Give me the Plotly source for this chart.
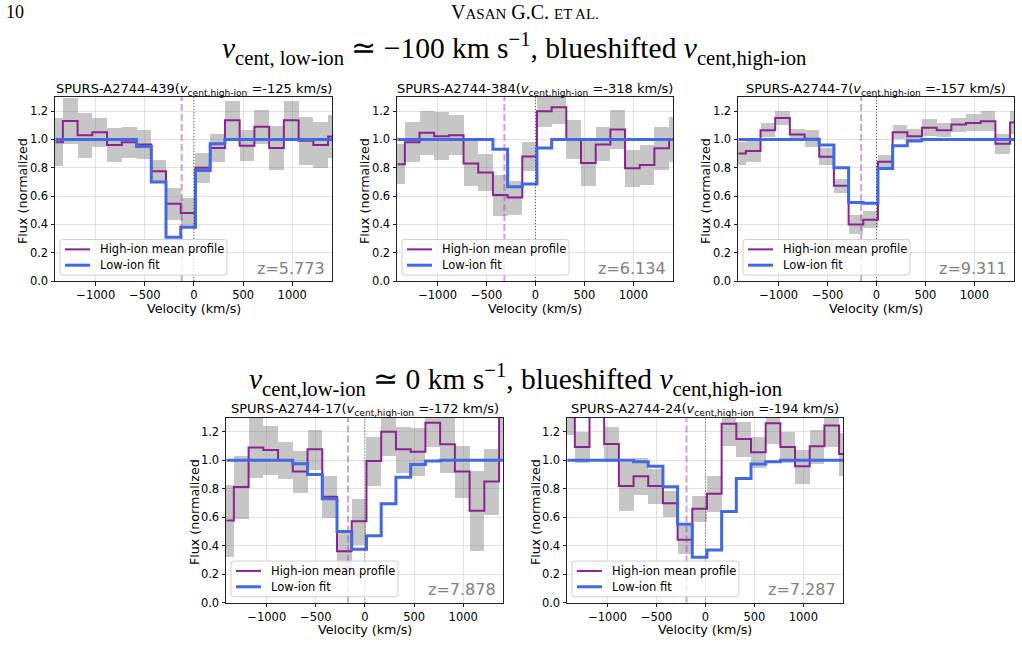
import plotly.graph_objects as go

W, H = 1022, 667

# ---------------- data ----------------
VEL = [-1410, -1260, -1110, -960, -810, -660, -510, -360, -210, -60,
       90, 240, 390, 540, 690, 840, 990, 1140, 1290, 1440]
XTICKS = [-1000, -500, 0, 500, 1000]
XTICKTEXT = ["−1000", "−500", "0", "500", "1000"]
YTICKS = [0.0, 0.2, 0.4, 0.6, 0.8, 1.0, 1.2]

NAMES = ["SPURS-A2744-439", "SPURS-A2744-384", "SPURS-A2744-7",
         "SPURS-A2744-17", "SPURS-A2744-24"]
V_HIGH = [-125, -318, -157, -172, -194]
REDSHIFTS = ["5.773", "6.134", "9.311", "7.878", "7.287"]

HIGH_439 = [0.98, 1.13, 1.03, 1.05, 0.96, 0.98, 0.965, 0.775, 0.545, 0.48,
            0.80, 0.94, 1.135, 0.955, 1.09, 0.94, 1.135, 0.99, 0.96, 1.02]
ERR_439 = [0.17, 0.16, 0.16, 0.10, 0.12, 0.11, 0.10, 0.08, 0.115, 0.105,
           0.105, 0.10, 0.135, 0.11, 0.12, 0.155, 0.14, 0.17, 0.16, 0.15]
LOW_439 = [1.0, 1.0, 1.0, 1.0, 1.0, 1.0, 0.95, 0.70, 0.31, 0.38,
           0.78, 0.97, 1.0, 1.0, 1.0, 1.0, 1.0, 1.0, 1.0, 1.0]

HIGH_384 = [0.825, 0.98, 1.047, 1.023, 1.03, 0.83, 0.766, 0.607, 0.59, 0.88,
            1.20, 1.227, 1.0, 0.834, 0.965, 1.07, 0.797, 0.82, 0.937, 1.0]
ERR_384 = [0.14, 0.14, 0.155, 0.17, 0.14, 0.16, 0.13, 0.145, 0.12, 0.10,
           0.11, 0.12, 0.14, 0.16, 0.12, 0.14, 0.13, 0.14, 0.15, 0.16]
LOW_384 = [1.0, 1.0, 1.0, 1.0, 1.0, 1.0, 1.0, 0.93, 0.666, 0.685,
           0.94, 1.0, 1.0, 1.0, 1.0, 1.0, 1.0, 1.0, 1.0, 1.0]

HIGH_7 = [0.90, 0.918, 1.065, 1.152, 1.035, 1.005, 0.878, 0.673, 0.40, 0.432,
          0.843, 1.05, 1.023, 1.082, 1.065, 1.105, 1.117, 1.128, 0.97, 1.12]
ERR_7 = [0.08, 0.08, 0.05, 0.05, 0.04, 0.06, 0.06, 0.05, 0.07, 0.06,
         0.05, 0.05, 0.05, 0.06, 0.05, 0.05, 0.06, 0.07, 0.07, 0.08]
LOW_7 = [1.0, 1.0, 1.0, 1.0, 1.0, 1.0, 0.96, 0.80, 0.555, 0.55,
         0.795, 0.955, 0.99, 1.0, 1.0, 1.0, 1.0, 1.0, 1.0, 1.0]

HIGH_17 = [0.576, 0.813, 1.089, 1.072, 1.0, 0.921, 1.077, 0.744, 0.361, 0.571,
           0.995, 1.20, 1.077, 1.06, 1.263, 1.112, 0.921, 0.646, 0.851, 1.31]
ERR_17 = [0.25, 0.22, 0.21, 0.17, 0.13, 0.15, 0.14, 0.15, 0.14, 0.16,
          0.17, 0.17, 0.16, 0.17, 0.17, 0.20, 0.18, 0.28, 0.23, 0.30]
LOW_17 = [1.0, 1.0, 1.0, 1.0, 1.0, 0.975, 0.90, 0.73, 0.50, 0.375,
          0.47, 0.695, 0.88, 0.97, 0.995, 1.0, 1.0, 1.0, 1.0, 1.0]

HIGH_24 = [1.35, 1.093, 1.45, 1.114, 0.819, 0.888, 0.819, 0.698, 0.442, 0.66,
           0.765, 1.256, 1.149, 1.056, 1.26, 1.093, 0.958, 1.098, 1.244, 1.044]
ERR_24 = [0.17, 0.11, 0.12, 0.12, 0.17, 0.13, 0.12, 0.09, 0.10, 0.09,
          0.125, 0.15, 0.12, 0.11, 0.14, 0.11, 0.12, 0.12, 0.15, 0.15]
LOW_24 = [1.0, 1.0, 1.0, 1.0, 1.0, 0.99, 0.958, 0.814, 0.551, 0.319,
          0.37, 0.64, 0.872, 0.974, 0.99, 1.0, 1.0, 1.0, 1.0, 1.0]

HIGH = [HIGH_439, HIGH_384, HIGH_7, HIGH_17, HIGH_24]
ERR = [ERR_439, ERR_384, ERR_7, ERR_17, ERR_24]
LOW = [LOW_439, LOW_384, LOW_7, LOW_17, LOW_24]

# ---------------- layout geometry (pixels: left, top, right, bottom) ----------------
BOXES = [(55, 98, 332, 284), (397, 98, 673, 284), (738, 98, 1014, 284),
         (226, 422, 503, 609), (567, 422, 843, 609)]

PURPLE = "#8a2390"
BLUE = "#4169e1"
SANS = "DejaVu Sans"
SERIF = "Liberation Serif"


def fx(p):
    return p / W


def fy(p):
    return 1 - p / H


fig = go.Figure()
shapes = []
annotations = []
layout_axes = {}

for i, (L, T, R, B) in enumerate(BOXES):
    n = "" if i == 0 else str(i + 1)
    xr, yr = "x" + n, "y" + n
    lower = [h - e for h, e in zip(HIGH[i], ERR[i])]
    span = [2 * e for e in ERR[i]]
    fig.add_trace(go.Bar(x=VEL, y=span, base=lower, width=150,
                         marker=dict(color="rgba(128,128,128,0.45)", line=dict(width=0)),
                         xaxis=xr, yaxis=yr, showlegend=False, hoverinfo="skip"))
    fig.add_trace(go.Scatter(x=VEL, y=HIGH[i], mode="lines", line_shape="hvh",
                             line=dict(color=PURPLE, width=2),
                             xaxis=xr, yaxis=yr, showlegend=False))
    fig.add_trace(go.Scatter(x=VEL, y=LOW[i], mode="lines", line_shape="hvh",
                             line=dict(color=BLUE, width=3),
                             xaxis=xr, yaxis=yr, showlegend=False))

    axcommon = dict(showline=True, mirror=True, linecolor="#222", linewidth=1,
                    ticks="outside", ticklen=3.5, tickwidth=1, tickcolor="#222",
                    showgrid=True, gridcolor="rgba(190,190,190,0.45)", gridwidth=1,
                    zeroline=False,
                    tickfont=dict(family=SANS, size=11.5, color="black"))
    layout_axes["xaxis" + n] = dict(domain=[fx(L), fx(R)], range=[-1415, 1405],
                                    anchor=yr, tickvals=XTICKS, ticktext=XTICKTEXT,
                                    **axcommon)
    layout_axes["yaxis" + n] = dict(domain=[fy(B), fy(T)], range=[0, 1.3],
                                    anchor=xr, tickvals=YTICKS, tickformat=".1f",
                                    **axcommon)

    # vertical reference lines
    shapes.append(dict(type="line", xref=xr, yref=yr + " domain", x0=V_HIGH[i], x1=V_HIGH[i],
                       y0=0, y1=1, line=dict(color="rgba(160,70,175,0.5)", width=2, dash="7px,3px")))
    shapes.append(dict(type="line", xref=xr, yref=yr + " domain", x0=0, x1=0,
                       y0=0, y1=1, line=dict(color="rgba(40,40,40,0.75)", width=1, dash="1px,2px")))

    # legend box (rounded)
    bx0, bx1, by0, by1 = L + 5, L + 172, B - 42, B - 6
    r = 3
    path = (f"M {fx(bx0 + r)},{fy(by0)} L {fx(bx1 - r)},{fy(by0)} "
            f"Q {fx(bx1)},{fy(by0)} {fx(bx1)},{fy(by0 + r)} L {fx(bx1)},{fy(by1 - r)} "
            f"Q {fx(bx1)},{fy(by1)} {fx(bx1 - r)},{fy(by1)} L {fx(bx0 + r)},{fy(by1)} "
            f"Q {fx(bx0)},{fy(by1)} {fx(bx0)},{fy(by1 - r)} L {fx(bx0)},{fy(by0 + r)} "
            f"Q {fx(bx0)},{fy(by0)} {fx(bx0 + r)},{fy(by0)} Z")
    shapes.append(dict(type="path", xref="paper", yref="paper", path=path,
                       fillcolor="rgba(255,255,255,0.8)", line=dict(color="#d0d0d0", width=1)))
    shapes.append(dict(type="line", xref="paper", yref="paper", x0=fx(L + 10), x1=fx(L + 35),
                       y0=fy(B - 32), y1=fy(B - 32), line=dict(color=PURPLE, width=2)))
    shapes.append(dict(type="line", xref="paper", yref="paper", x0=fx(L + 10), x1=fx(L + 35),
                       y0=fy(B - 16), y1=fy(B - 16), line=dict(color=BLUE, width=3)))
    annotations.append(dict(text="High-ion mean profile", xref="paper", yref="paper",
                            x=fx(L + 43), y=fy(B - 32), xanchor="left", yanchor="middle",
                            showarrow=False, font=dict(family=SANS, size=11.5, color="black")))
    annotations.append(dict(text="Low-ion fit", xref="paper", yref="paper",
                            x=fx(L + 43), y=fy(B - 16), xanchor="left", yanchor="middle",
                            showarrow=False, font=dict(family=SANS, size=11.5, color="black")))

    # redshift label
    annotations.append(dict(text="z=" + REDSHIFTS[i], xref="paper", yref="paper",
                            x=fx(R - 5), y=fy(B - 13), xanchor="right", yanchor="middle",
                            showarrow=False, font=dict(family=SANS, size=16, color="#808080")))
    # panel title
    annotations.append(dict(text=f"{NAMES[i]}(<i>v</i><sub>cent,high-ion</sub> =" + str(V_HIGH[i]) + " km/s)",
                            xref="paper", yref="paper", x=fx((L + R) / 2), y=fy(T - 8),
                            xanchor="center", yanchor="middle", showarrow=False,
                            font=dict(family=SANS, size=13, color="black")))
    # axis labels
    annotations.append(dict(text="Velocity (km/s)", xref="paper", yref="paper",
                            x=fx((L + R) / 2), y=fy(B + 27.5), xanchor="center", yanchor="middle",
                            showarrow=False, font=dict(family=SANS, size=12.7, color="black")))
    annotations.append(dict(text="Flux (normalized", xref="paper", yref="paper",
                            x=fx(L - 32), y=fy((T + B) / 2 + 2), xanchor="center", yanchor="middle",
                            textangle=-90, showarrow=False,
                            font=dict(family=SANS, size=12.7, color="black")))

# page header & section titles
annotations.append(dict(text="10", xref="paper", yref="paper", x=fx(4), y=fy(12),
                        xanchor="left", yanchor="middle", showarrow=False,
                        font=dict(family=SERIF, size=18, color="black")))
annotations.append(dict(text="V<span style='font-size:15px'>ASAN</span> G.C. <span style='font-size:15px'>ET AL.</span>",
                        xref="paper", yref="paper", x=fx(525), y=fy(12),
                        xanchor="center", yanchor="middle", showarrow=False,
                        font=dict(family=SERIF, size=20, color="black")))
annotations.append(dict(text="<i>v</i><sub>cent, low-ion</sub> ≃ −100 km s<sup>−1</sup>, blueshifted <i>v</i><sub>cent,high-ion</sub>",
                        xref="paper", yref="paper", x=fx(514), y=fy(50),
                        xanchor="center", yanchor="middle", showarrow=False,
                        font=dict(family=SERIF, size=29.5, color="black")))
annotations.append(dict(text="<i>v</i><sub>cent,low-ion</sub> ≃ 0 km s<sup>−1</sup>, blueshifted <i>v</i><sub>cent,high-ion</sub>",
                        xref="paper", yref="paper", x=fx(516), y=fy(384),
                        xanchor="center", yanchor="middle", showarrow=False,
                        font=dict(family=SERIF, size=29.5, color="black")))

fig.update_layout(width=W, height=H, margin=dict(l=0, r=0, t=0, b=0),
                  paper_bgcolor="white", plot_bgcolor="white",
                  barmode="overlay", bargap=0, showlegend=False,
                  shapes=shapes, annotations=annotations, **layout_axes)

fig.write_html("out.html")
